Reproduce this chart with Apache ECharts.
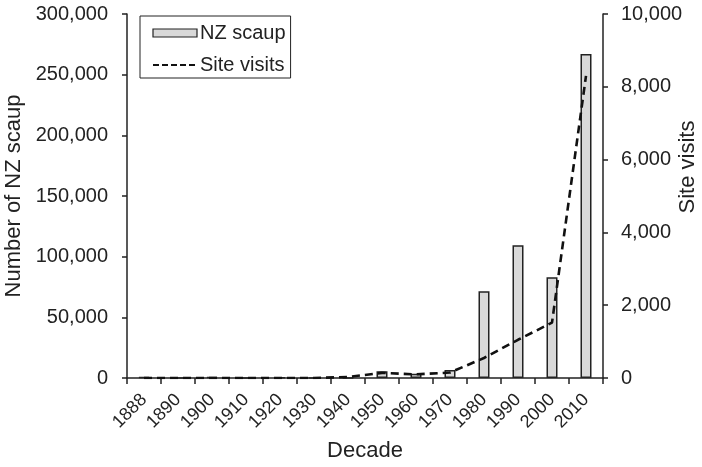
<!DOCTYPE html>
<html><head><meta charset="utf-8">
<script src="https://cdn.jsdelivr.net/npm/echarts@6/dist/echarts.min.js"></script>
<style>html,body{margin:0;padding:0;background:#fff}#c{width:702px;height:467px}</style>
</head><body><div id="c"></div>
<script>
const categories = ['1888','1890','1900','1910','1920','1930','1940','1950','1960','1970','1980','1990','2000','2010'];
const scaup = [700, 0, 700, 0, 600, 0, 200, 5500, 3500, 6500, 71500, 109500, 83000, 267000];
const siteVisits = [0, 0, 0, 0, 0, 0, 30, 140, 100, 150, 550, 1050, 1520, 8300];
const leftTicks = {min: 0, max: 300000, interval: 50000};
const rightTicks = {min: 0, max: 10000, interval: 2000};

const FONT = 'Liberation Sans';
const fmt = v => v.toLocaleString('en-US');
const axisLine = {show: true, lineStyle: {color: '#222', width: 1.5}};
const chart = echarts.init(document.getElementById('c'), null, {renderer: 'canvas'});
chart.setOption({
  animation: false,
  backgroundColor: '#fff',
  textStyle: {fontFamily: FONT, color: '#222'},
  grid: {left: 127, right: 99, top: 14, bottom: 89, containLabel: false, outerBoundsMode: 'none'},
  legend: {
    orient: 'vertical', left: 140, top: 16,
    borderColor: '#222', borderWidth: 1, borderRadius: 0,
    padding: [7, 5, 3, 12], itemGap: 12,
    itemWidth: 44, itemHeight: 8,
    textStyle: {fontFamily: FONT, fontSize: 20, color: '#222', padding: [0, 0, 0, -2]},
    data: [
      {name: 'NZ scaup', icon: 'rect', itemStyle: {color: '#d9d9d9', borderColor: '#222', borderWidth: 1.2}},
      {name: 'Site visits', itemStyle: {opacity: 0}, lineStyle: {color: '#111', width: 2, type: [6, 3]}}
    ]
  },
  graphic: [{
    type: 'text', x: 688, y: 167, rotation: Math.PI / 2,
    style: {text: 'Site visits', fontFamily: FONT, fontSize: 22, fill: '#222', align: 'center', verticalAlign: 'middle'}
  }],
  xAxis: {
    type: 'category', data: categories, boundaryGap: true,
    axisLine: axisLine,
    axisTick: {show: true, alignWithLabel: false, length: 6, lineStyle: {color: '#222', width: 1.5}},
    axisLabel: {rotate: 45, fontSize: 18, color: '#222', fontFamily: FONT, margin: 19, interval: 0},
    name: 'Decade', nameLocation: 'middle', nameGap: 62,
    nameTextStyle: {fontSize: 22, color: '#222', fontFamily: FONT, verticalAlign: 'top'}
  },
  yAxis: [
    {
      type: 'value', position: 'left', min: leftTicks.min, max: leftTicks.max, interval: leftTicks.interval,
      axisLine: axisLine,
      axisTick: {show: true, length: 5, lineStyle: {color: '#222', width: 1.5}},
      splitLine: {show: false},
      axisLabel: {fontSize: 20, color: '#222', fontFamily: FONT, margin: 19, formatter: fmt},
      name: 'Number of NZ scaup', nameLocation: 'middle', nameGap: 96,
      nameTextStyle: {fontSize: 22, color: '#222', fontFamily: FONT}
    },
    {
      type: 'value', position: 'right', min: rightTicks.min, max: rightTicks.max, interval: rightTicks.interval,
      axisLine: axisLine,
      axisTick: {show: true, length: 5, lineStyle: {color: '#222', width: 1.5}},
      splitLine: {show: false},
      axisLabel: {fontSize: 20, color: '#222', fontFamily: FONT, margin: 18, formatter: fmt}
    }
  ],
  series: [
    {
      name: 'NZ scaup', type: 'bar', yAxisIndex: 0, data: scaup, barWidth: 11,
      itemStyle: {color: '#d9d9d9', borderColor: '#222', borderWidth: 1.5}
    },
    {
      name: 'Site visits', type: 'line', yAxisIndex: 1, data: siteVisits,
      symbol: 'none', smooth: false,
      lineStyle: {color: '#111', width: 2.6, type: [8, 5]},
      itemStyle: {color: '#111'}
    }
  ]
});
</script></body></html>
